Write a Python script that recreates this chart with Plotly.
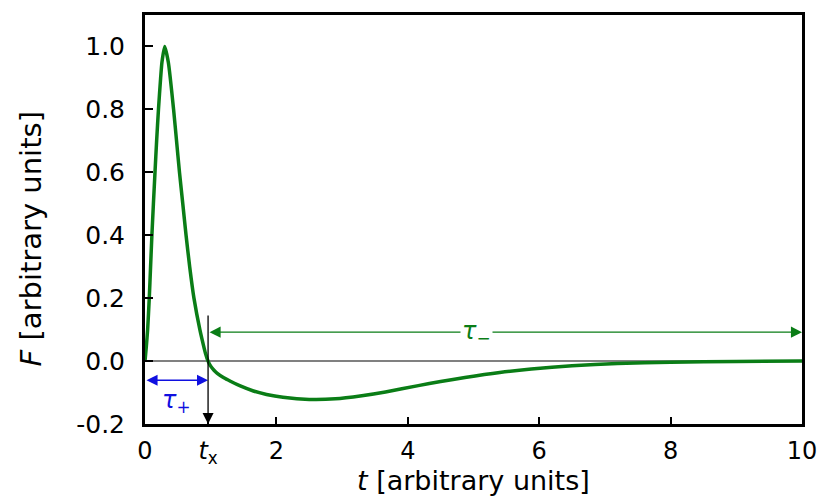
import plotly.graph_objects as go

# Curve values
t_vals = [0.0, 0.02, 0.04, 0.065, 0.085, 0.105, 0.128, 0.152, 0.177, 0.205,
          0.238, 0.258, 0.30, 0.355, 0.435, 0.48, 0.525, 0.575, 0.625, 0.68,
          0.745, 0.835, 0.89, 0.92, 0.96, 1.0, 1.05, 1.1, 1.2, 1.3,
          1.45, 1.65, 1.85, 2.1, 2.5, 2.9, 3.3, 3.66, 4.16, 4.5,
          4.87, 5.4, 5.88, 6.5, 7.19, 8.0, 9.0, 10.0]
F_vals = [0.0, 0.045, 0.10, 0.20, 0.30, 0.40, 0.50, 0.60, 0.70, 0.80,
          0.90, 0.95, 1.0, 0.95, 0.80, 0.70, 0.60, 0.50, 0.40, 0.30,
          0.20, 0.10, 0.05, 0.025, 0.0, -0.016, -0.029, -0.039, -0.053, -0.064,
          -0.079, -0.095, -0.106, -0.115, -0.122, -0.12, -0.11, -0.098, -0.078, -0.065,
          -0.052, -0.036, -0.025, -0.015, -0.008, -0.0035, -0.001, 0.0]

t_x = 0.96
x_tickvals = [0, t_x, 2, 4, 6, 8, 10]
x_ticktext = ["0", "<i>t</i><sub>x</sub>", "2", "4", "6", "8", "10"]
y_tickvals = [-0.2, 0.0, 0.2, 0.4, 0.6, 0.8, 1.0]
y_ticktext = ["-0.2", "0.0", "0.2", "0.4", "0.6", "0.8", "1.0"]

tau_minus_y = 0.092
tau_plus_y = -0.061
tx_top = 0.15

green = "#0a7d16"
blue = "#1010e0"
font = "DejaVu Sans"

fig = go.Figure()
fig.add_trace(go.Scatter(x=[0, 10], y=[0, 0], mode="lines",
                         line=dict(color="#808080", width=2), hoverinfo="skip"))
fig.add_trace(go.Scatter(x=t_vals, y=F_vals, mode="lines",
                         line=dict(color=green, width=3.5, shape="spline", smoothing=0.6)))

ann = []
# tau minus arrow
ann.append(dict(x=10, y=tau_minus_y, ax=t_x, ay=tau_minus_y, xref="x", yref="y",
                axref="x", ayref="y", showarrow=True, arrowhead=2, startarrowhead=2,
                arrowside="end+start", arrowcolor=green, arrowwidth=1.3, arrowsize=1.7,
                startarrowsize=1.7, text=""))
ann.append(dict(x=5.05, y=tau_minus_y, xref="x", yref="y", showarrow=False,
                text="<i>τ</i><sub>−</sub>", font=dict(family=font, size=24, color=green),
                bgcolor="white"))
# tau plus arrow
ann.append(dict(x=t_x, y=tau_plus_y, ax=0, ay=tau_plus_y, xref="x", yref="y",
                axref="x", ayref="y", showarrow=True, arrowhead=2, startarrowhead=2,
                arrowside="end+start", arrowcolor=blue, arrowwidth=1.3, arrowsize=1.7,
                startarrowsize=1.7, text=""))
ann.append(dict(x=0.48, y=-0.128, xref="x", yref="y", showarrow=False,
                text="<i>τ</i><sub>+</sub>", font=dict(family=font, size=24, color=blue)))
# t_x arrow
ann.append(dict(x=t_x, y=-0.2, ax=t_x, ay=tx_top, xref="x", yref="y",
                axref="x", ayref="y", showarrow=True, arrowhead=2,
                arrowcolor="black", arrowwidth=1.3, arrowsize=1.7, text=""))
# axis titles
ann.append(dict(x=0.5, y=-0.137, xref="paper", yref="paper", showarrow=False,
                text="<i>t</i> [arbitrary units]", font=dict(family=font, size=27, color="black"),
                xanchor="center", yanchor="middle"))
ann.append(dict(x=-0.174, y=0.453, xref="paper", yref="paper", showarrow=False,
                text="<i>F</i> [arbitrary units]", font=dict(family=font, size=29, color="black"),
                textangle=-90, xanchor="center", yanchor="middle"))

fig.update_layout(
    width=829, height=498,
    margin=dict(l=145, r=23, t=13, b=74),
    paper_bgcolor="white", plot_bgcolor="white",
    showlegend=False,
    annotations=ann,
    font=dict(family=font, size=25, color="black"),
)
fig.update_xaxes(range=[0, 10], tickvals=x_tickvals, ticktext=x_ticktext,
                 tickfont=dict(size=24),
                 ticks="inside", ticklen=7, tickwidth=1.5, tickcolor="black",
                 showline=True, linewidth=3, linecolor="black", mirror=True,
                 showgrid=False, zeroline=False, ticklabelstandoff=3)
fig.update_yaxes(range=[-0.2, 1.1], tickvals=y_tickvals, ticktext=y_ticktext,
                 ticks="inside", ticklen=8, tickwidth=1.5, tickcolor="black",
                 showline=True, linewidth=3, linecolor="black", mirror=True,
                 showgrid=False, zeroline=False, ticklabelstandoff=12)

fig.write_html("out.html")
